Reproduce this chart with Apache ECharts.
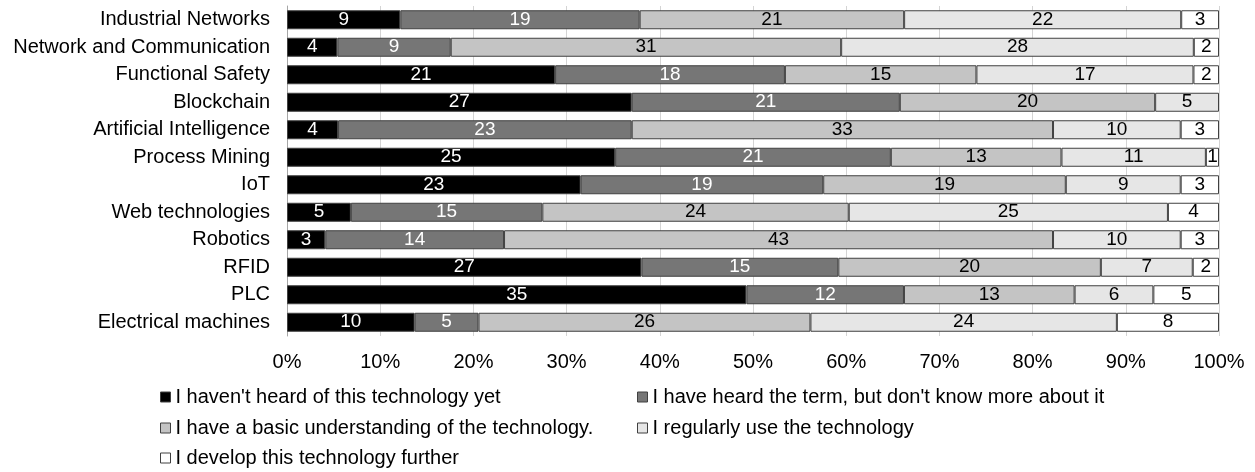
<!DOCTYPE html>
<html>
<head>
<meta charset="utf-8">
<script src="https://cdn.jsdelivr.net/npm/echarts@6/dist/echarts.min.js"></script>
<style>
html,body{margin:0;padding:0;background:#fff;}
#chart{width:1255px;height:472px;}
</style>
</head>
<body>
<div id="chart"></div>
<script>
const categories = ["Industrial Networks","Network and Communication","Functional Safety","Blockchain","Artificial Intelligence","Process Mining","IoT","Web technologies","Robotics","RFID","PLC","Electrical machines"];
const seriesNames = ["I haven't heard of this technology yet","I have heard the term, but don't know more about it","I have a basic understanding of the technology.","I regularly use the technology","I develop this technology further"];
const notHeard = [9,4,21,27,4,25,23,5,3,27,35,10];
const heardTerm = [19,9,18,21,23,21,19,15,14,15,12,5];
const basicUnderstanding = [21,31,15,20,33,13,19,24,43,20,13,26];
const regularlyUse = [22,28,17,5,10,11,9,25,10,7,6,24];
const developFurther = [3,2,2,0,3,1,3,4,3,2,5,8];
const xTicks = [0,10,20,30,40,50,60,70,80,90,100];

const counts = [notHeard, heardTerm, basicUnderstanding, regularlyUse, developFurther];
const colors = ['#000000','#767676','#c4c4c4','#e6e6e6','#ffffff'];
const labelColors = ['#ffffff','#ffffff','#000000','#000000','#000000'];
const totals = categories.map((c,i)=>counts.reduce((s,arr)=>s+arr[i],0));
const FONT = 'Liberation Sans, Arial, sans-serif';

const series = counts.map((arr,k)=>({
  name: seriesNames[k],
  type: 'bar',
  stack: 'all',
  barWidth: 19,
  data: arr.map((v,i)=>v/totals[i]*100),
  itemStyle: {color: colors[k], borderColor: '#404040', borderWidth: 1},
  label: {
    show: true,
    position: 'inside',
    color: labelColors[k],
    fontFamily: FONT,
    fontSize: 19,
    formatter: p => arr[p.dataIndex] > 0 ? String(arr[p.dataIndex]) : ''
  },
  emphasis: {disabled: true}
}));

const legendPos = [[160,387],[637,387],[160,418],[637,418],[160,448]];
const legends = seriesNames.map((n,k)=>({
  data: [n],
  left: legendPos[k][0],
  top: legendPos[k][1],
  padding: 0,
  icon: 'rect',
  itemWidth: 10,
  itemHeight: 10,
  itemStyle: {borderColor: '#404040', borderWidth: 1},
  textStyle: {fontFamily: FONT, fontSize: 20, color: '#000'},
  selectedMode: false
}));

const chart = echarts.init(document.getElementById('chart'), null, {renderer: 'canvas'});
chart.setOption({
  animation: false,
  backgroundColor: '#fff',
  grid: {left: 287, right: 36, top: 6, bottom: 136, containLabel: false},
  legend: legends,
  xAxis: {
    type: 'value',
    min: 0, max: 100, interval: 10,
    axisLine: {show: false},
    axisTick: {show: false},
    splitLine: {show: true, lineStyle: {color: '#d4d4d4', width: 1}},
    axisLabel: {
      margin: 16,
      fontFamily: FONT,
      fontSize: 20, color: '#000',
      formatter: v => xTicks.includes(v) ? v + '%' : ''
    }
  },
  yAxis: {
    type: 'category',
    data: categories,
    inverse: true,
    axisLine: {show: true, lineStyle: {color: '#a6a6a6', width: 1}},
    axisTick: {show: false},
    axisLabel: {
      margin: 17,
      fontFamily: FONT,
      fontSize: 20, color: '#000'
    }
  },
  series: series
});
</script>
</body>
</html>
